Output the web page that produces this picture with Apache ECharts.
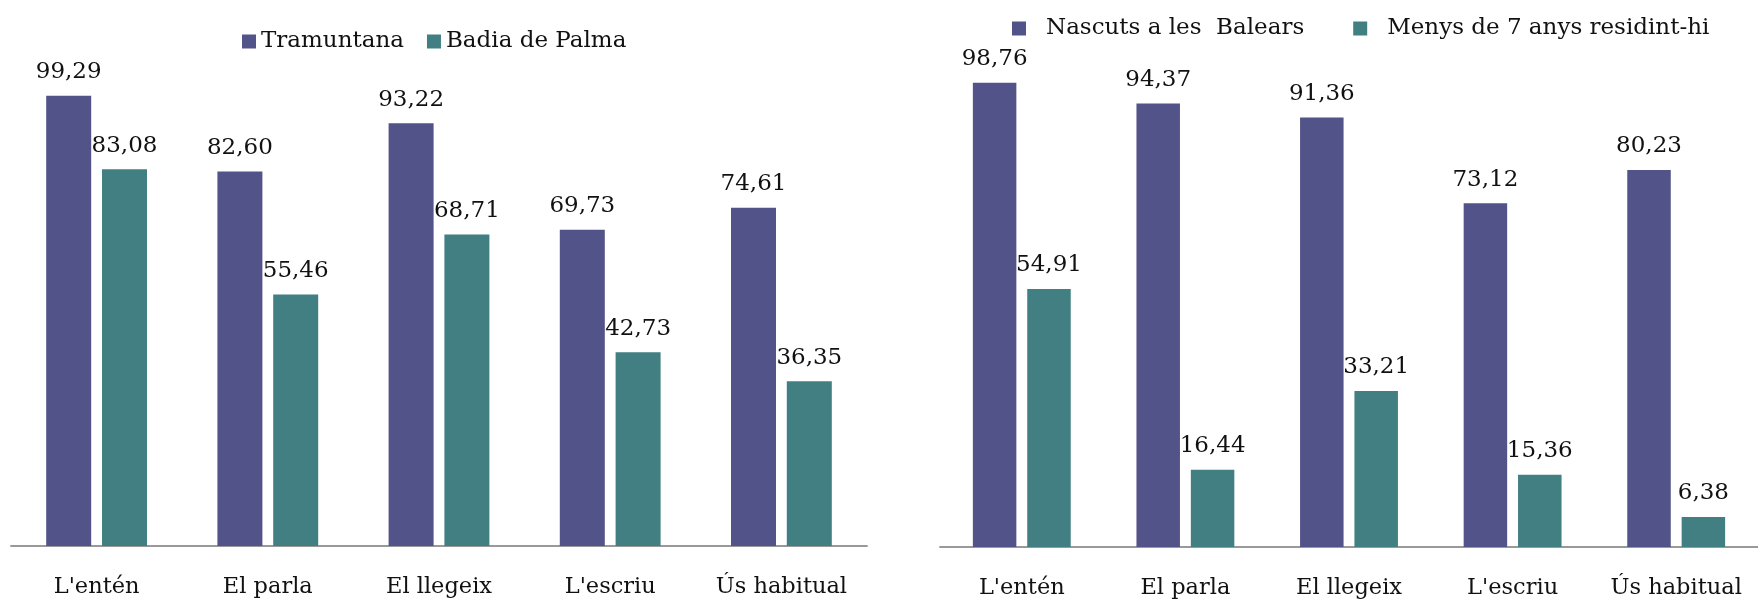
<!DOCTYPE html>
<html>
<head>
<meta charset="utf-8">
<script src="https://cdn.jsdelivr.net/npm/echarts@6/dist/echarts.min.js"></script>
<style>
  html, body { margin: 0; padding: 0; background: #fff; }
  #chart { width: 1758px; height: 602px; }
</style>
</head>
<body>
<div id="chart"></div>
<script>
// categories (same for both panels)
const categories = ["L'entén", 'El parla', 'El llegeix', "L'escriu", 'Ús habitual']

// left panel
const tramuntana = [99.29, 82.60, 93.22, 69.73, 74.61]
const badiaPalma = [83.08, 55.46, 68.71, 42.73, 36.35]

// right panel
const nascutsBalears = [98.76, 94.37, 91.36, 73.12, 80.23]
const menys7Anys = [54.91, 16.44, 33.21, 15.36, 6.38]

const PURPLE = '#525388'
const TEAL = '#417f83'
const FONT = 'DejaVu Serif'

const fmt = (p) => p.value.toFixed(2).replace('.', ',')

const labelStyle = {
  show: true,
  position: 'top',
  distance: 12,
  color: '#111',
  fontFamily: FONT,
  fontSize: 23,
  formatter: fmt
}

const catAxis = (gridIndex) => ({
  type: 'category',
  gridIndex,
  data: categories,
  axisLine: { lineStyle: { color: '#999', width: 1.8 } },
  axisTick: { show: false },
  axisLabel: {
    color: '#111',
    fontFamily: FONT,
    fontSize: 22.5,
    margin: 30,
    interval: 0
  }
})

const valAxis = (gridIndex) => ({
  type: 'value',
  gridIndex,
  min: 0,
  max: 100,
  show: false,
  splitLine: { show: false }
})

const legendText = { color: '#111', fontFamily: FONT, fontSize: 23 }

const chart = echarts.init(document.getElementById('chart'))
chart.setOption({
  animation: false,
  grid: [
    { left: 11, top: 92.5, width: 856, height: 453.5 },
    { left: 940, top: 77, width: 828.5, height: 470 }
  ],
  legend: [
    {
      left: 242,
      top: 30,
      padding: 0,
      itemWidth: 14,
      itemHeight: 14,
      itemGap: 23,
      icon: 'rect',
      textStyle: legendText,
      data: ['Tramuntana', 'Badia de Palma']
    },
    {
      left: 1012,
      top: 17,
      padding: 0,
      itemWidth: 14,
      itemHeight: 14,
      itemGap: 49,
      icon: 'rect',
      textStyle: { ...legendText, padding: [0, 0, 0, 15] },
      data: ['Nascuts a les  Balears', 'Menys de 7 anys residint-hi']
    }
  ],
  xAxis: [catAxis(0), catAxis(1)],
  yAxis: [valAxis(0), valAxis(1)],
  series: [
    {
      name: 'Tramuntana',
      type: 'bar',
      xAxisIndex: 0,
      yAxisIndex: 0,
      data: tramuntana,
      barWidth: 45,
      barGap: '24%',
      itemStyle: { color: PURPLE },
      label: labelStyle
    },
    {
      name: 'Badia de Palma',
      type: 'bar',
      xAxisIndex: 0,
      yAxisIndex: 0,
      data: badiaPalma,
      barWidth: 45,
      barGap: '24%',
      itemStyle: { color: TEAL },
      label: labelStyle
    },
    {
      name: 'Nascuts a les  Balears',
      type: 'bar',
      xAxisIndex: 1,
      yAxisIndex: 1,
      data: nascutsBalears,
      barWidth: 43.5,
      barGap: '25%',
      itemStyle: { color: PURPLE },
      label: labelStyle
    },
    {
      name: 'Menys de 7 anys residint-hi',
      type: 'bar',
      xAxisIndex: 1,
      yAxisIndex: 1,
      data: menys7Anys,
      barWidth: 43.5,
      barGap: '25%',
      itemStyle: { color: TEAL },
      label: labelStyle
    }
  ]
})
</script>
</body>
</html>
